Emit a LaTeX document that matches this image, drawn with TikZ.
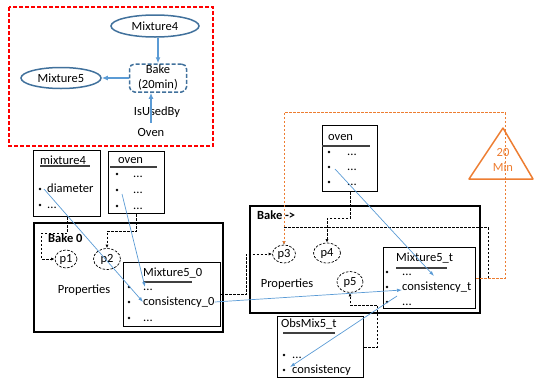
\documentclass[tikz,border=0pt]{standalone}
\usepackage{fontspec}
\setmainfont{Carlito}
\usetikzlibrary{shapes.geometric,arrows.meta}
\definecolor{ebl}{HTML}{41719C}
\definecolor{lbl}{HTML}{5B9BD5}
\definecolor{org}{HTML}{ED7D31}
\begin{document}
\begin{tikzpicture}[x=1pt,y=-1pt, font=\fontsize{12.5}{15}\selectfont,
 txt/.style={inner sep=0pt, anchor=west, text height=9pt, text depth=3pt},
 ctxt/.style={inner sep=0pt, text height=9pt, text depth=3pt},
 bul/.style={circle, fill=black, inner sep=0pt, minimum size=2.6pt},
 box/.style={draw, line width=1.3pt, anchor=north west, inner sep=0pt},
 bigbox/.style={draw, line width=2pt, anchor=north west, inner sep=0pt},
 uline/.style={line width=1.1pt, black!75},
 prop/.style={draw, ellipse, inner sep=0pt, line width=0.7pt, dash pattern=on 2.5pt off 1.5pt},
 dconn/.style={line width=0.7pt, dash pattern=on 2.5pt off 1.5pt, -{Latex[length=3.5pt,width=3pt]}},
 oconn/.style={org, line width=0.8pt, dash pattern=on 2.5pt off 1.5pt, -{Latex[length=3.5pt,width=3pt]}},
 bconn/.style={lbl, line width=0.7pt, -{Latex[length=5pt,width=3.5pt]}},
 tarrow/.style={lbl, line width=1.3pt, -{Latex[length=6pt,width=5pt]}},
 ell/.style={draw=ebl, line width=1.5pt, ellipse, inner sep=0pt},
]
\useasboundingbox (0,0) rectangle (535,381);

% ---------- top red box ----------
\draw[red, line width=1.3pt, dash pattern=on 4pt off 2pt] (9,7) rectangle (213,146);
\node[ell, minimum width=88pt, minimum height=22pt] (mx4) at (155,26) {Mixture4};
\node[ell, minimum width=80pt, minimum height=21pt] (mx5) at (61,78) {Mixture5};
\node[draw=ebl, line width=1.5pt, dash pattern=on 4pt off 2pt, rounded corners=5pt,
      minimum width=57pt, minimum height=28pt, inner sep=0pt, align=center] (bake) at (158,78) {Bake\\(20min)};
\node[ctxt] (iub) at (157,112) {IsUsedBy};
\node[ctxt] (ovn) at (151,133) {Oven};
\draw[tarrow] (bake.north |- mx4.south) -- (bake.north);
\draw[tarrow] (bake.west) -- (mx5.east);
\draw[tarrow] ([yshift=4pt]ovn.north) -- (ovn.north |- bake.south);

% ---------- mixture4 ----------
\node[box, minimum width=67pt, minimum height=66pt] (m4) at (33,150) {};
\node[txt] (m4t) at (40,161) {mixture4};
\draw[uline] (40,166) -- (90,166);
\node[bul] (m4b1) at (40,189) {}; \node[txt] (m4i1) at (47,189) {diameter};
\node[bul] (m4b2) at (40,205) {}; \node[txt] (m4i2) at (47,205) {...};

% ---------- oven (left) ----------
\node[box, minimum width=56pt, minimum height=62pt] (ovl) at (108,151) {};
\node[txt] (ovlt) at (118,160) {oven};
\draw[uline] (110,167) -- (157,167);
\node[bul] (ovlb1) at (117,174) {}; \node[txt] (ovli1) at (133,174) {...};
\node[bul] (ovlb2) at (117,190) {}; \node[txt] (ovli2) at (133,190) {...};
\node[bul] (ovlb3) at (117,206) {}; \node[txt] (ovli3) at (133,206) {...};
\coordinate (ovlx) at (122,194);

% ---------- Bake 0 ----------
\node[bigbox, minimum width=189pt, minimum height=109pt] (b0) at (33,222) {};
\node[txt] (b0t) at (48,239) {\textbf{Bake 0}};
\node[prop, minimum width=22pt, minimum height=18pt] (p1) at (66,259) {p1};
\node[prop, minimum width=27pt, minimum height=21pt] (p2) at (107,259) {p2};
\node[ctxt] (pr0) at (84,290) {Properties};
\node[box, minimum width=97pt, minimum height=64pt] (m50) at (123,262) {};
\node[txt] (m50t) at (143,273) {Mixture5\_0};
\draw[uline] (143,282) -- (192,282);
\node[bul] (m50b1) at (129,287) {}; \node[txt] (m50d1) at (143,287) {...};
\node[bul] (m50b2) at (129,302) {}; \node[txt] (c0) at (143,302) {consistency\_0};
\node[bul] (m50b3) at (129,318) {}; \node[txt] (m50d3) at (143,318) {...};

% ---------- oven (right) ----------
\node[box, minimum width=55pt, minimum height=66pt] (ovr) at (322,125) {};
\node[txt] (ovrt) at (328,137) {oven};
\draw[uline] (322,146) -- (370,146);
\node[bul] (ovrb1) at (329,152) {}; \node[txt] (ovri1) at (347,152) {...};
\node[bul] (ovrb2) at (329,167) {}; \node[txt] (ovri2) at (347,167) {...};
\node[bul] (ovrb3) at (329,182) {}; \node[txt] (ovri3) at (347,182) {...};
\coordinate (ovrx) at (335,169);

% ---------- 20 Min ----------
\draw[org, line width=1.5pt, line join=round] (503,128) -- (533,179) -- (469,179) -- cycle;
\node[org, align=center, inner sep=0pt] (tri) at (503,160) {20\\Min};

% ---------- Bake -> ----------
\node[bigbox, minimum width=230pt, minimum height=107pt] (bt) at (249,205) {};
\node[txt] (btt) at (257,216) {\textbf{Bake ->}};
\node[prop, minimum width=23pt, minimum height=18pt] (p3) at (284,254) {p3};
\node[prop, minimum width=27pt, minimum height=20pt] (p4) at (327,253) {p4};
\node[prop, minimum width=26pt, minimum height=21pt] (p5) at (350,282) {p5};
\node[ctxt] (prt) at (287,284) {Properties};
\node[box, minimum width=92pt, minimum height=61pt] (m5t) at (383,247) {};
\node[txt] (m5tt) at (396,258) {Mixture5\_t};
\draw[uline] (396,268) -- (447,268);
\node[bul] (m5tb1) at (387,272) {}; \node[txt] (m5td1) at (402,272) {...};
\node[bul] (m5tb2) at (387,287) {}; \node[txt] (ct) at (402,287) {consistency\_t};
\node[bul] (m5tb3) at (387,302) {}; \node[txt] (m5td3) at (402,302) {...};
\coordinate (m5tx) at (434,276);

% ---------- ObsMix5_t ----------
\node[box, minimum width=86pt, minimum height=61pt] (obs) at (277,316) {};
\node[txt] (obst) at (281,324) {ObsMix5\_t};
\draw[uline] (283,333) -- (335,333);
\node[bul] (obsb1) at (284,355) {}; \node[txt] (obsd1) at (292,355) {...};
\node[bul] (obsb2) at (284,370) {}; \node[txt] (obsc) at (292,370) {consistency};

% ---------- dashed connectors ----------
\draw[dconn] (m4.south) -- ++(0,16) -| ([xshift=-13pt]p1.west) -- (p1.west);
\draw[dconn] (ovl.south) -- ++(0,17) -| (p2.north);
\draw[dconn] (m50.east) -| ([xshift=-26pt]p3.west) -- (p3.west);
\draw[dconn] (ovr.south) -- ++(0,26) -| (p4.north);
\draw[dconn] (obs.east) -- ++(13,0) |- ([yshift=-12pt]p5.south) -- (p5.south);
\draw[dconn] (m5t.east) -- ++(12,0) |- ([yshift=17pt]p3.north) -- (p3.north);
\draw[oconn] (m5t.east) -- ++(29,0) |- ([yshift=132pt]p3.north) -- (p3.north);

% ---------- blue connectors ----------
\draw[bconn] ([xshift=-3pt]m4i1.west) -- (c0.west);
\draw[bconn] (ovlx) -- ([xshift=2pt]m50d1.west);
\draw[bconn] (c0.east) -- ([yshift=-3pt]ct.west);
\draw[bconn] (ovrx) -- (m5tx);
\draw[bconn] ([xshift=-5pt,yshift=-9pt]ct.west) -- ([xshift=-2pt,yshift=3pt]obsc.west);
\end{tikzpicture}
\end{document}
